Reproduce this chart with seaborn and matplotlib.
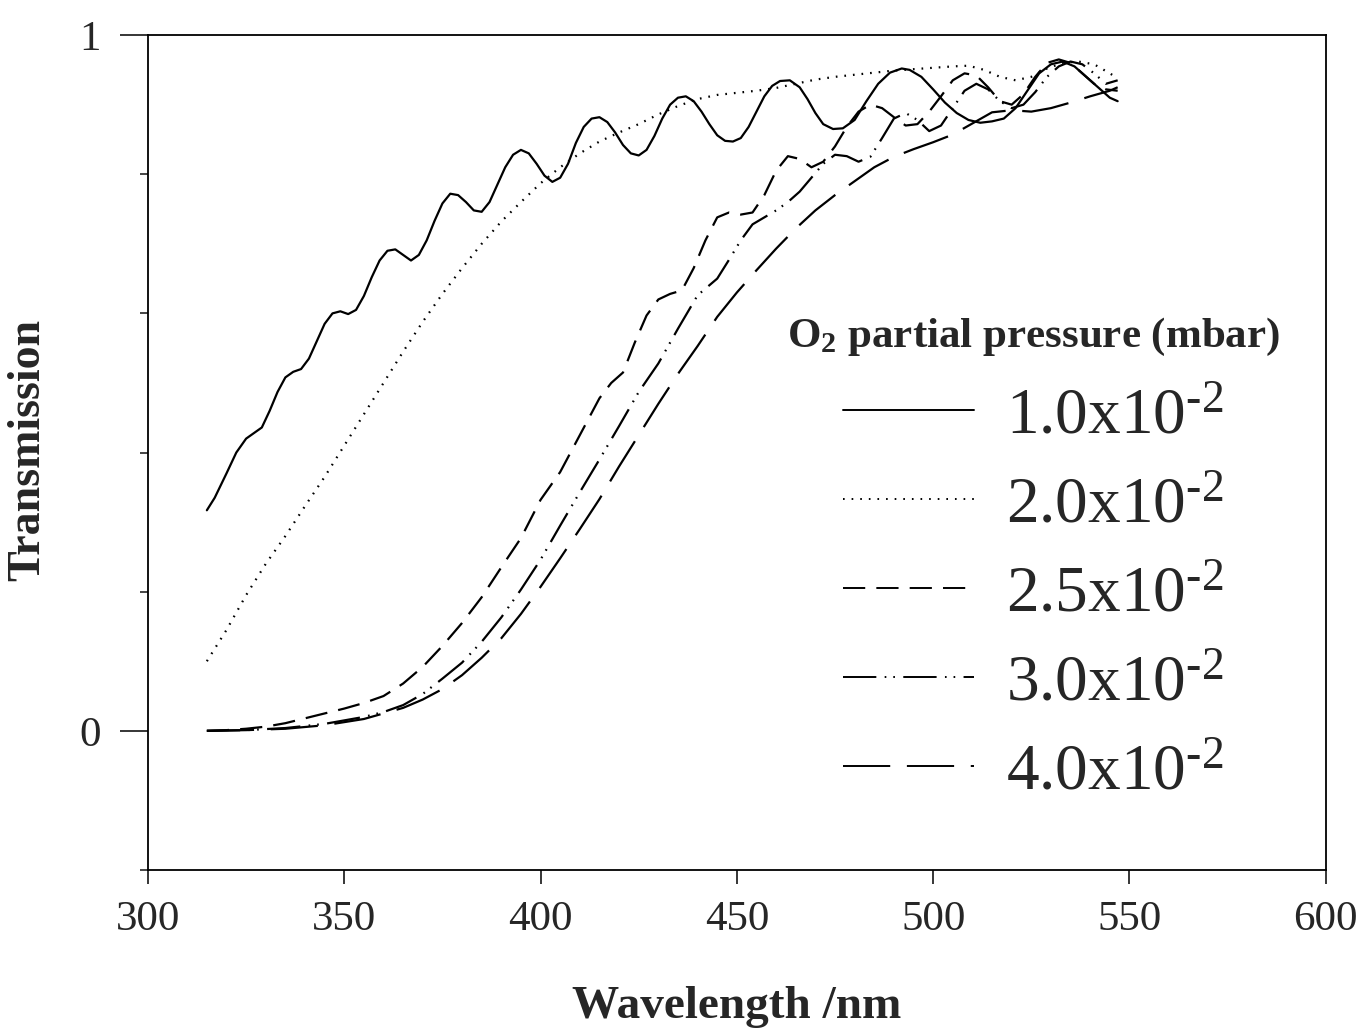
import numpy as np
import pandas as pd
import matplotlib
matplotlib.use('Agg')
import matplotlib.pyplot as plt
import seaborn as sns

# ---- data (wavelength in nm, transmission) ----
wl_a = [315, 317, 320, 322.5, 325, 327, 329, 331, 333, 335, 337, 339, 341, 343, 345, 347, 349, 351,
        353, 355, 357, 359, 361, 363, 365, 367, 369, 371, 373, 375, 377, 379, 381, 383, 385, 387,
        389, 391, 393, 395, 397, 399, 401, 403, 405, 407, 409, 411, 413, 415, 417, 419, 421, 423,
        425, 427, 429, 431, 433, 435, 437, 439, 441, 443, 445, 447, 449, 451, 453, 455, 457, 459,
        461, 463.5, 466, 468, 470, 472, 474.5, 477, 480, 483, 486, 489, 492, 494, 497, 500, 503,
        506, 509, 512, 515, 518, 521, 524, 527, 530, 533, 536, 539, 542, 545, 547]
t_a = [0.317, 0.335, 0.370, 0.400, 0.420, 0.428, 0.436, 0.460, 0.487, 0.508, 0.516, 0.520, 0.535,
       0.560, 0.585, 0.600, 0.603, 0.599, 0.605, 0.625, 0.652, 0.676, 0.690, 0.692, 0.684, 0.676,
       0.684, 0.705, 0.733, 0.758, 0.772, 0.770, 0.760, 0.748, 0.746, 0.760, 0.785, 0.810, 0.828,
       0.835, 0.830, 0.815, 0.798, 0.789, 0.795, 0.815, 0.845, 0.868, 0.880, 0.882, 0.875, 0.860,
       0.842, 0.830, 0.827, 0.835, 0.855, 0.880, 0.900, 0.910, 0.912, 0.905, 0.890, 0.872, 0.856,
       0.848, 0.847, 0.852, 0.868, 0.890, 0.912, 0.927, 0.934, 0.935, 0.925, 0.908, 0.888, 0.872,
       0.865, 0.866, 0.878, 0.905, 0.930, 0.946, 0.952, 0.950, 0.940, 0.922, 0.903, 0.888, 0.878,
       0.874, 0.876, 0.880, 0.895, 0.920, 0.945, 0.958, 0.962, 0.955, 0.940, 0.925, 0.910, 0.905]

wl_b = [315, 320, 325, 330, 335, 340, 345, 350, 355, 360, 365, 370, 375, 380, 385, 390, 395, 400,
        405, 410, 415, 420, 425, 430, 435, 440, 445, 450, 455, 460, 465, 470, 475, 480, 485, 490,
        495, 500, 505, 509, 513, 517, 521, 525, 529, 533, 537, 541, 545, 547]
t_b = [0.100, 0.145, 0.195, 0.240, 0.280, 0.323, 0.365, 0.410, 0.455, 0.500, 0.545, 0.588, 0.628,
       0.665, 0.700, 0.732, 0.760, 0.787, 0.810, 0.830, 0.847, 0.860, 0.872, 0.886, 0.898, 0.908,
       0.914, 0.917, 0.920, 0.924, 0.930, 0.936, 0.940, 0.943, 0.946, 0.949, 0.951, 0.953, 0.955,
       0.956, 0.950, 0.940, 0.935, 0.940, 0.952, 0.960, 0.962, 0.958, 0.945, 0.938]

wl_c = [315, 320, 325, 330, 335, 340, 345, 350, 355, 360, 365, 370, 375, 380, 385, 390, 395, 400,
        405, 410, 415, 418, 421, 424, 427, 430, 433, 436, 439, 442, 445, 448, 451, 454, 457, 460,
        463, 466, 469, 472, 475, 478, 481, 484, 487, 490, 493, 496, 499, 502, 505, 508, 511, 514,
        517, 520, 523, 526, 529, 532, 535, 538, 541, 544, 547]
t_c = [0.000, 0.001, 0.003, 0.006, 0.011, 0.018, 0.025, 0.032, 0.040, 0.050, 0.068, 0.092, 0.122,
       0.155, 0.192, 0.235, 0.277, 0.332, 0.372, 0.425, 0.478, 0.500, 0.515, 0.558, 0.597, 0.620,
       0.628, 0.633, 0.665, 0.705, 0.738, 0.745, 0.742, 0.745, 0.770, 0.805, 0.826, 0.822, 0.810,
       0.818, 0.840, 0.868, 0.890, 0.900, 0.895, 0.882, 0.870, 0.872, 0.890, 0.912, 0.935, 0.945,
       0.942, 0.925, 0.905, 0.900, 0.915, 0.940, 0.960, 0.965, 0.960, 0.945, 0.930, 0.922, 0.920]

wl_d = [315, 325, 335, 345, 355, 360, 365, 370, 375, 380, 385, 390, 395, 400, 405, 410, 415, 420,
        425, 430, 435, 440, 445, 448, 451, 454, 457, 460, 463, 466, 469, 472, 475, 478, 481, 484,
        487, 490, 493, 496, 499, 502, 505, 508, 511, 514, 517, 520, 523, 526, 529, 532, 535, 538,
        541, 544, 547]
t_d = [0.000, 0.001, 0.004, 0.010, 0.020, 0.027, 0.037, 0.053, 0.075, 0.098, 0.128, 0.163, 0.203,
       0.246, 0.295, 0.343, 0.390, 0.438, 0.487, 0.528, 0.578, 0.626, 0.650, 0.677, 0.705, 0.728,
       0.738, 0.748, 0.760, 0.775, 0.795, 0.815, 0.828, 0.826, 0.818, 0.825, 0.852, 0.880, 0.888,
       0.878, 0.862, 0.870, 0.895, 0.920, 0.930, 0.922, 0.905, 0.895, 0.900, 0.918, 0.940, 0.955,
       0.962, 0.958, 0.945, 0.930, 0.935]

wl_e = [315, 325, 335, 345, 355, 365, 370, 375, 380, 385, 390, 395, 400, 405, 410, 415, 420, 425,
        430, 435, 440, 445, 450, 455, 460, 465, 470, 475, 480, 485, 490, 495, 500, 505, 510, 515,
        520, 525, 530, 535, 540, 545, 547]
t_e = [0.000, 0.001, 0.003, 0.008, 0.017, 0.033, 0.045, 0.060, 0.080, 0.105, 0.133, 0.168, 0.207,
       0.248, 0.290, 0.333, 0.380, 0.425, 0.470, 0.513, 0.553, 0.595, 0.630, 0.662, 0.693, 0.722,
       0.748, 0.770, 0.790, 0.810, 0.825, 0.836, 0.846, 0.857, 0.873, 0.889, 0.892, 0.890, 0.895,
       0.903, 0.912, 0.920, 0.925]

labels = ['1.0x10$^{\\text{-}2}$', '2.0x10$^{\\text{-}2}$', '2.5x10$^{\\text{-}2}$',
          '3.0x10$^{\\text{-}2}$', '4.0x10$^{\\text{-}2}$']

frames = []
for lab, wl, t in zip(labels, [wl_a, wl_b, wl_c, wl_d, wl_e], [t_a, t_b, t_c, t_d, t_e]):
    frames.append(pd.DataFrame({'wavelength': wl, 'T': t, 'pressure': lab}))
df = pd.concat(frames, ignore_index=True)

sns.set_theme(style='ticks')
plt.rcParams['font.family'] = ['Liberation Serif', 'DejaVu Serif']
plt.rcParams['mathtext.fontset'] = 'custom'
plt.rcParams['mathtext.rm'] = 'Liberation Serif'
plt.rcParams['mathtext.bf'] = 'Liberation Serif:bold'
plt.rcParams['mathtext.it'] = 'Liberation Serif:italic'
plt.rcParams['lines.scale_dashes'] = False

# dash patterns in points
dashes = {
    labels[0]: '',
    labels[1]: (1.2, 5.0),
    labels[2]: (16, 8),
    labels[3]: (24, 6, 1.2, 5, 1.2, 6),
    labels[4]: (34, 12),
}

fig = plt.figure(figsize=(13.6, 10.32), dpi=100)
ax = fig.add_axes([0.1088, 0.157, 0.866, 0.809])

sns.lineplot(data=df, x='wavelength', y='T', style='pressure', dashes=dashes,
             color='black', linewidth=1.6, estimator=None, sort=False, ax=ax)

ax.set_xlim(300, 600)
ax.set_ylim(-0.2, 1.0)
ax.set_xticks(np.arange(300, 601, 50))
ax.set_yticks([0, 1])
ax.set_yticks([-0.2, 0.2, 0.4, 0.6, 0.8], minor=True)
ax.tick_params(axis='x', which='major', direction='out', length=10, width=1.3,
               labelsize=31, pad=12, top=False)
ax.tick_params(axis='y', which='major', direction='out', length=20, width=1.3,
               labelsize=31, pad=14, right=False)
ax.tick_params(axis='y', which='minor', direction='out', length=6, width=1.2, right=False)
for s in ax.spines.values():
    s.set_linewidth(1.3)
    s.set_color('black')

ax.set_xlabel('Wavelength /nm', fontsize=34, fontweight='bold', labelpad=34)
ax.set_ylabel('Transmission', fontsize=33, fontweight='bold')
ax.yaxis.set_label_coords(-0.084, 0.503)

handles, _ = ax.get_legend_handles_labels()
ax.get_legend().remove()
leg = fig.legend(handles, labels, loc='center', bbox_to_anchor=(0.760, 0.458),
                 bbox_transform=fig.transFigure, frameon=False, fontsize=47,
                 handlelength=2.0, handletextpad=0.5, labelspacing=0.45,
                 title='O$_\\mathbf{2}$ partial pressure (mbar)',
                 title_fontproperties={'size': 31, 'weight': 'bold'})
for h in leg.get_lines():
    h.set_linewidth(1.4)

fig.savefig('out.png', dpi=100, facecolor='white')
